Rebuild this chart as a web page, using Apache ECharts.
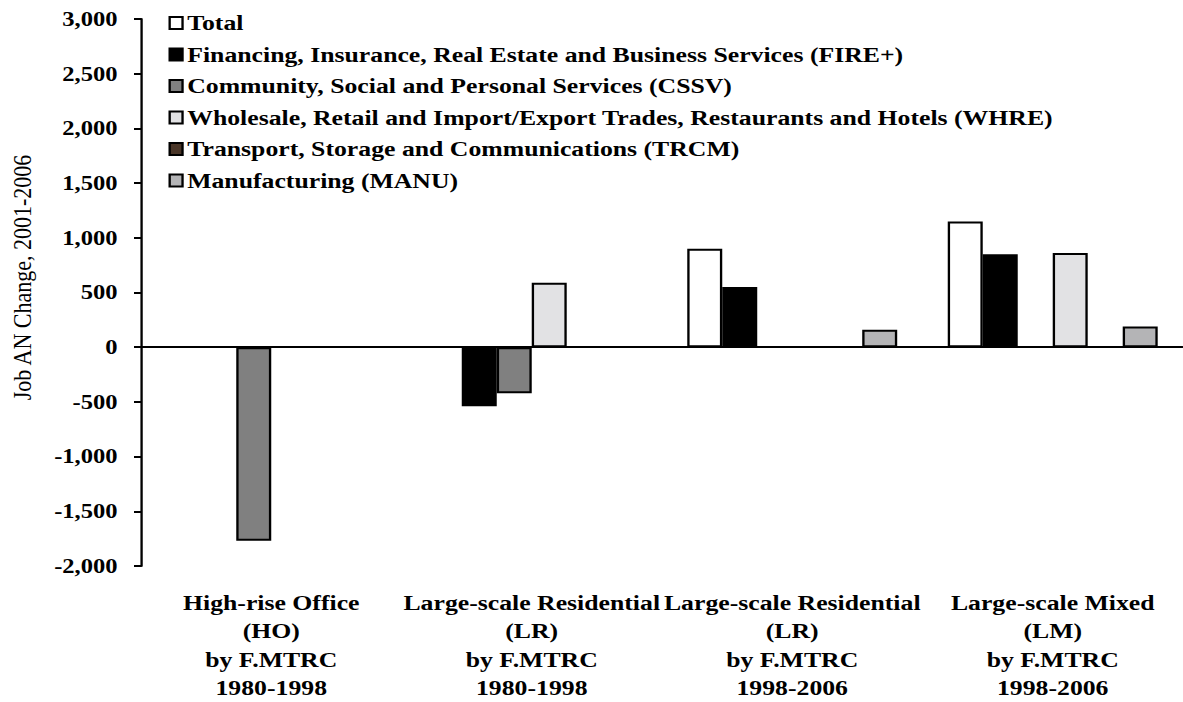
<!DOCTYPE html>
<html>
<head>
<meta charset="utf-8">
<script src="https://cdn.jsdelivr.net/npm/echarts@6/dist/echarts.min.js"></script>
<style>
html, body { margin: 0; padding: 0; background: #fff; overflow: hidden; }
/* the source picture is stretched sideways, so the chart is too */
#chart { width: 1011px; height: 702px; transform: scaleX(1.1701); transform-origin: 0 0; }
</style>
</head>
<body>
<div id="chart"></div>
<script>
var categories = [
    'High-rise Office\n(HO)\nby F.MTRC\n1980-1998',
    'Large-scale Residential\n(LR)\nby F.MTRC\n1980-1998',
    'Large-scale Residential\n(LR)\nby F.MTRC\n1998-2006',
    'Large-scale Mixed\n(LM)\nby F.MTRC\n1998-2006'
];

var seriesNames = [
    'Total',
    'Financing, Insurance, Real Estate and Business Services (FIRE+)',
    'Community, Social and Personal Services (CSSV)',
    'Wholesale, Retail and Import/Export Trades, Restaurants and Hotels (WHRE)',
    'Transport, Storage and Communications (TRCM)',
    'Manufacturing (MANU)'
];

var totalValues = [null, null, 900, 1150];
var fireValues  = [null, -540, 550, 850];
var cssvValues  = [-1770, -420, null, null];
var whreValues  = [null, 590, null, 860];
var trcmValues  = [null, null, null, null];
var manuValues  = [null, null, 160, 190];

var yTicks = [-2000, -1500, -1000, -500, 0, 500, 1000, 1500, 2000, 2500, 3000];

var allValues = [totalValues, fireValues, cssvValues, whreValues, trcmValues, manuValues];
var fills = ['#ffffff', '#000000', '#808080', '#e2e2e4', '#4a3628', '#b4b4b6'];

var font = '"Liberation Serif", "Times New Roman", serif';

var series = seriesNames.map(function(name, i){
    var s = {
        name: name,
        type: 'bar',
        data: allValues[i],
        barGap: '0%',
        barCategoryGap: '19.4%',
        itemStyle: { color: fills[i], borderColor: '#000', borderWidth: 2 }
    };
    if(i == 0){
        // zero line across the plot
        s.markLine = {
            silent: true,
            symbol: 'none',
            label: { show: false },
            lineStyle: { color: '#000', width: 2, type: 'solid' },
            data: [{ yAxis: 0 }]
        };
    }
    return s;
});

var myChart = echarts.init(document.getElementById('chart'), null, { renderer: 'svg' });
myChart.setOption({
    animation: false,
    textStyle: { fontFamily: font, color: '#000' },
    legend: {
        orient: 'vertical',
        left: 144,
        top: 12,
        padding: 0,
        itemWidth: 11,
        itemHeight: 12,
        itemGap: 9.5,
        icon: 'rect',
        data: seriesNames,
        textStyle: { fontFamily: font, fontSize: 22, fontWeight: 'bold', color: '#000', padding: [0, 0, 0, -1] }
    },
    grid: { left: 120.5, right: 0, top: 19, bottom: 136, outerBoundsMode: 'none' },
    xAxis: {
        type: 'category',
        data: categories,
        axisLine: { show: false },
        axisTick: { show: false },
        axisLabel: {
            interval: 0,
            margin: 22,
            fontFamily: font,
            fontSize: 22,
            fontWeight: 'bold',
            lineHeight: 28.5,
            color: '#000'
        }
    },
    yAxis: {
        type: 'value',
        min: yTicks[0],
        max: yTicks[yTicks.length - 1],
        interval: 500,
        name: 'Job AN Change, 2001-2006',
        nameLocation: 'middle',
        nameGap: 90,
        nameTextStyle: { fontFamily: font, fontSize: 22, color: '#000', padding: [0, 0, 0, 30] },
        axisLine: { show: true, lineStyle: { color: '#000', width: 2 } },
        axisTick: { show: true, length: 6, lineStyle: { color: '#000', width: 2 } },
        splitLine: { show: false },
        axisLabel: {
            margin: 20,
            fontFamily: font,
            fontSize: 21,
            fontWeight: 'bold',
            color: '#000',
            formatter: function(v){ return echarts.format.addCommas(v); }
        }
    },
    series: series
});
</script>
</body>
</html>
